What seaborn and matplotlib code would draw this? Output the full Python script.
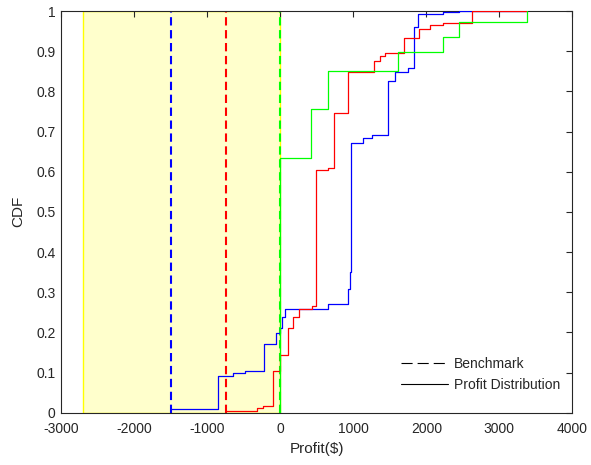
import matplotlib
matplotlib.use("Agg")
import matplotlib.pyplot as plt
import seaborn as sns
import pandas as pd
from matplotlib.lines import Line2D
from matplotlib.ticker import FuncFormatter

# =========================
# DATA
# =========================
# step points of each empirical CDF: profit value -> cdf after the step
blue_x = [-1500, -850, -650, -490, -229, -55, 0, 18, 65, 650, 929, 960, 974,
          1129, 1250, 1475, 1570, 1746, 1826, 1888, 2232, 2447, 3384]
blue_y = [0.01, 0.092, 0.1, 0.103, 0.172, 0.198, 0.21, 0.237, 0.257, 0.27, 0.307, 0.35, 0.672,
          0.683, 0.691, 0.826, 0.849, 0.857, 0.961, 0.993, 0.997, 1.0, 1.0]

red_x = [-745, -320, -237, -105, 0, 100, 180, 250, 430, 487, 650, 741, 921,
         1280, 1365, 1430, 1691, 1897, 2046, 2232, 2630, 3384]
red_y = [0.005, 0.012, 0.017, 0.105, 0.144, 0.211, 0.237, 0.258, 0.265, 0.604, 0.61, 0.745, 0.849,
         0.875, 0.887, 0.895, 0.932, 0.954, 0.966, 0.97, 1.0, 1.0]

green_x = [0, 0, 425, 654, 1609, 2227, 2446, 3384]
green_y = [0.0, 0.635, 0.756, 0.85, 0.897, 0.935, 0.972, 1.0]

benchmarks = [-1500, -750, 0]
bench_colors = ["#0000ff", "#ff0000", "#00ff00"]
loss_zone = (-2700, 0)

x_ticks = [-3000, -2000, -1000, 0, 1000, 2000, 3000, 4000]
y_ticks = [0, 0.1, 0.2, 0.3, 0.4, 0.5, 0.6, 0.7, 0.8, 0.9, 1.0]

# =========================
# SETTINGS
# =========================
sns.set_style("white")
plt.rcParams["font.family"] = ["Liberation Sans", "DejaVu Sans"]
plt.rcParams["axes.unicode_minus"] = False

fig = plt.figure(figsize=(5.91, 4.65), dpi=100)
ax = fig.add_axes([0.1037, 0.1125, 0.8647, 0.8638])

# shaded loss region
ax.axvspan(loss_zone[0], loss_zone[1], ymin=0, ymax=1, facecolor="#ffffcc",
           edgecolor="#ffff00", linewidth=1.0, zorder=0)

# benchmark lines
for xb, c in zip(benchmarks, bench_colors):
    ax.axvline(xb, color=c, linewidth=1.5, dashes=(4, 2.2), zorder=2)

# profit distributions
for xs, ys, c in [(blue_x, blue_y, "#0000ff"), (red_x, red_y, "#ff0000"),
                  (green_x, green_y, "#00ff00")]:
    df = pd.DataFrame({"Profit": xs, "CDF": ys})
    sns.lineplot(data=df, x="Profit", y="CDF", ax=ax, color=c, linewidth=0.9,
                 drawstyle="steps-post", estimator=None, sort=False, zorder=3)

ax.set_xlim(-3000, 4000)
ax.set_ylim(0, 1)
ax.set_xticks(x_ticks)
ax.set_yticks(y_ticks)
ax.yaxis.set_major_formatter(FuncFormatter(lambda v, p: f"{v:g}"))
ax.tick_params(direction="in", length=4, width=0.8, top=True, right=True,
               labelsize=10, colors="#262626", pad=4)
ax.tick_params(axis="x", pad=7)
for s in ax.spines.values():
    s.set_color("#262626")
    s.set_linewidth(0.8)
ax.set_xlabel("Profit($)", fontsize=11, labelpad=4)
ax.set_ylabel("CDF", fontsize=11, labelpad=8)

handles = [Line2D([], [], color="black", linewidth=0.8, dashes=(10, 4.5)),
           Line2D([], [], color="black", linewidth=0.8)]
ax.legend(handles, ["Benchmark", "Profit Distribution"], loc="lower right",
          bbox_to_anchor=(1.0, 0.02), frameon=False, fontsize=10,
          handlelength=3.4, handletextpad=0.4, labelspacing=0.5)

fig.savefig("out.png", dpi=100)
